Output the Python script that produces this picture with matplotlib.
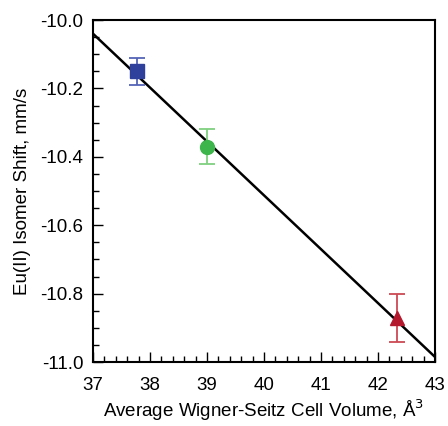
import matplotlib
matplotlib.use("Agg")
import matplotlib.pyplot as plt
from matplotlib.ticker import MultipleLocator, FormatStrFormatter

plt.rcParams['font.family'] = ['Liberation Sans', 'DejaVu Sans']
plt.rcParams['axes.unicode_minus'] = False

# Wigner-Seitz cell volume vs Eu(II) isomer shift
volumes = [37.78, 39.0, 42.33]
shifts = [-10.15, -10.37, -10.87]
errors = [0.04, 0.05, 0.07]
markers = ["s", "o", "^"]
colors = ["#2f3f9c", "#3cb54a", "#b3182c"]
err_colors = ["#5563b8", "#7fd07f", "#cc4a55"]

# linear fit endpoints
fit_x = [37.0, 43.0]
fit_y = [-10.04, -10.985]

fig = plt.figure(figsize=(4.48, 4.26), dpi=100)
ax = fig.add_axes([0.2076, 0.150, 0.7634, 0.803])

ax.plot(fit_x, fit_y, color="black", lw=1.8, zorder=2)

for x, y, e, m, c, ec in zip(volumes, shifts, errors, markers, colors, err_colors):
    ax.errorbar(x, y, yerr=e, fmt="none", ecolor=ec, elinewidth=1.3,
                capsize=6, capthick=1.3, zorder=3)
    ax.plot(x, y, marker=m, color=c, markersize=10, ls="none", zorder=4)

ax.set_xlim(37, 43)
ax.set_ylim(-11.0, -10.0)
ax.xaxis.set_major_locator(MultipleLocator(1))
ax.xaxis.set_minor_locator(MultipleLocator(0.2))
ax.yaxis.set_major_locator(MultipleLocator(0.2))
ax.yaxis.set_minor_locator(MultipleLocator(0.05))
ax.tick_params(which="both", direction="in", top=False, right=False, labelsize=13.5)
ax.tick_params(which="major", length=7, width=1)
ax.tick_params(which="minor", length=4, width=1)
ax.tick_params(axis="x", which="major", pad=11)
ax.tick_params(axis="y", which="major", pad=7)
ax.yaxis.set_major_formatter(FormatStrFormatter("%.1f"))

for s in ax.spines.values():
    s.set_linewidth(1.5)

ax.set_xlabel("Average Wigner-Seitz Cell Volume, Å$^3$", fontsize=13.5, labelpad=2)
ax.set_ylabel("Eu(II) Isomer Shift, mm/s", fontsize=13.5, labelpad=7)

fig.savefig("out.png", dpi=100)
